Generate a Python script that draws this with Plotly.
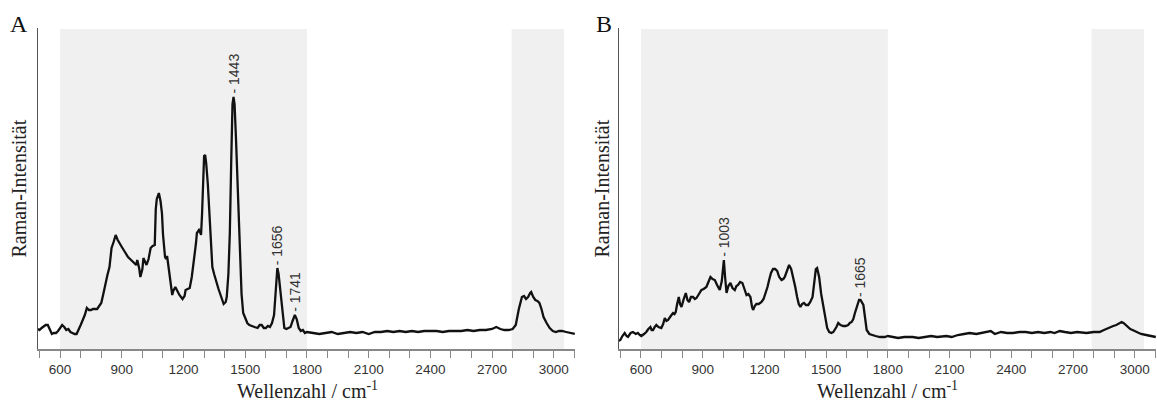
import plotly.graph_objects as go

# ---------------- data ----------------
a_x = [492,500,510,520,530,540,550,560,570,580,590,600,610,620,630,640,650,660,670,680,690,700,710,720,730,740,750,760,780,800,
       810,820,830,840,850,860,870,880,890,900,915,930,945,960,970,975,985,990,1000,1005,1015,1020,1030,1040,1050,1060,1065,1070,
       1080,1088,1095,1100,1110,1115,1120,1128,1135,1145,1150,1160,1170,1180,1195,1205,1210,1220,1230,1240,1250,1260,1265,1275,
       1280,1285,1290,1295,1300,1305,1310,1318,1325,1335,1340,1350,1360,1370,1380,1395,1405,1410,1418,1425,1432,1438,1443,1448,
       1455,1460,1468,1475,1482,1490,1500,1510,1520,1530,1545,1560,1570,1580,1590,1600,1610,1620,1630,1640,1648,1656,1662,1670,
       1678,1690,1700,1710,1720,1730,1741,1750,1760,1770,1780,1790,1800,1830,1860,1890,1920,1950,1980,2010,2040,2070,2100,2130,
       2160,2190,2220,2250,2280,2310,2340,2370,2400,2430,2460,2490,2520,2550,2580,2610,2640,2670,2700,2720,2740,2760,2780,2800,
       2815,2830,2845,2855,2865,2875,2885,2890,2900,2910,2920,2930,2940,2950,2965,2980,2995,3010,3025,3040,3060,3080,3102]
a_y = [20,19,21,23,24,24,19,15,16,16,18,21,24,22,19,20,17,16,15,15,19,24,29,34,41,39,39,40,40,46,
       55,66,74,82,101,107,114,109,105,102,97,92,89,86,84,89,80,72,80,91,87,84,90,101,103,104,140,150,
       156,148,136,115,92,90,93,80,72,54,58,62,58,54,50,53,59,60,61,72,86,105,116,119,
       117,114,135,170,193,194,186,165,142,100,82,74,66,60,54,45,47,52,75,116,190,245,252,245,
       210,182,130,82,55,36,30,26,24,23,22,21,24,24,21,21,23,22,26,34,55,81,75,59,
       38,21,20,21,22,28,34,30,21,18,19,16,17,16,15,16,17,15,16,17,16,17,15,17,
       17,18,17,18,17,18,17,18,18,18,17,18,18,18,19,18,19,19,20,22,20,19,19,20,
       24,40,52,53,50,52,56,57,52,49,48,46,40,32,26,21,18,17,18,18,17,16,15]

b_x = [490,500,510,521,530,537,550,561,575,585,595,602,615,626,636,646,652,659,667,675,685,699,708,716,724,732,745,756,763,769,
       776,784,790,797,808,818,826,834,843,853,862,870,882,894,905,918,928,938,948,959,970,983,993,1003,1009,1016,1025,1035,1045,
       1056,1064,1072,1082,1093,1103,1113,1122,1132,1140,1145,1153,1161,1172,1186,1196,1207,1215,1223,1232,1242,1252,1262,1272,
       1283,1292,1299,1310,1320,1330,1340,1350,1359,1367,1375,1383,1392,1402,1413,1423,1434,1443,1450,1456,1466,1476,1486,1495,
       1505,1515,1526,1535,1542,1550,1559,1570,1583,1595,1607,1615,1624,1632,1640,1650,1660,1667,1674,1681,1690,1697,1710,1721,
       1740,1762,1785,1800,1826,1850,1880,1920,1950,1980,2010,2040,2084,2110,2140,2170,2197,2230,2260,2278,2300,2320,2350,2380,
       2407,2440,2470,2500,2530,2560,2590,2610,2635,2660,2690,2720,2765,2800,2829,2850,2878,2895,2910,2925,2936,2945,2955,2965,
       2978,2989,3000,3014,3030,3055,3080,3102]
b_y = [8,9,13,16,13,12,16,17,15,16,14,13,15,17,20,22,19,19,22,24,22,21,25,31,28,29,33,36,35,37,
       45,52,45,42,50,56,49,47,52,52,50,51,55,59,60,62,67,72,70,69,64,59,68,89,72,56,63,66,61,
       59,63,64,67,66,60,54,55,52,42,39,43,45,45,47,50,56,62,69,76,80,80,78,72,
       69,70,72,79,84,80,72,62,52,45,42,45,46,44,44,47,52,68,80,81,72,55,42,30,
       21,17,16,17,19,22,26,24,23,23,24,26,27,30,36,44,49,49,47,44,30,19,15,14,
       13,12,12,13,12,11,12,12,11,12,13,12,13,12,14,15,16,15,16,17,18,15,17,16,
       16,17,17,16,17,16,17,16,18,17,16,17,16,17,17,19,22,23,24,26,27,26,24,22,
       20,19,18,16,15,14,13,12]

a_peaks = [1443, 1656, 1741]
a_peak_y = [252, 81, 34]
b_peaks = [1003, 1665]
b_peak_y = [89, 49]

bands_a = [(600, 1800), (2795, 3050)]
bands_b = [(600, 1800), (2790, 3045)]

tick_vals = [600, 900, 1200, 1500, 1800, 2100, 2400, 2700, 3000]
tick_labels = [str(v) for v in tick_vals]

panel_letters = ["A", "B"]
x_title = "Wellenzahl / cm<sup>-1</sup>"
y_title = "Raman-Intensität"

# ---------------- figure ----------------
SERIF = "Liberation Serif"
SANS = "Liberation Sans"
fig = go.Figure()
fig.add_trace(go.Scatter(x=a_x, y=a_y, mode="lines", line=dict(color="#111", width=2.3),
                         xaxis="x", yaxis="y", showlegend=False, hoverinfo="skip"))
fig.add_trace(go.Scatter(x=b_x, y=b_y, mode="lines", line=dict(color="#111", width=2.3),
                         xaxis="x2", yaxis="y2", showlegend=False, hoverinfo="skip"))

shapes = []
for xr, yr, bands in (("x", "y domain", bands_a), ("x2", "y2 domain", bands_b)):
    for x0, x1 in bands:
        shapes.append(dict(type="rect", xref=xr, yref=yr, x0=x0, x1=x1, y0=0, y1=0.997,
                           fillcolor="#f0f0f0", line=dict(width=0), layer="below"))

annotations = []
for xr, yr, px, py in (("x", "y", a_peaks, a_peak_y), ("x2", "y2", b_peaks, b_peak_y)):
    for p, v in zip(px, py):
        annotations.append(dict(x=p, y=v, xref=xr, yref=yr, text="- " + str(p), textangle=-90,
                                showarrow=False, yanchor="bottom", xanchor="center", yshift=1,
                                font=dict(family=SANS, size=14, color="#333")))

for xp, letter in ((18.5, panel_letters[0]), (604, panel_letters[1])):
    annotations.append(dict(x=xp / 1157, y=(349 - 24) / 321, xref="paper", yref="paper", text=letter,
                            showarrow=False, xanchor="center", yanchor="middle",
                            font=dict(family=SERIF, size=24, color="#111")))
for xp in (307, 887):
    annotations.append(dict(x=xp / 1157, y=-41 / 321, xref="paper", yref="paper", text=x_title,
                            showarrow=False, xanchor="center", yanchor="middle",
                            font=dict(family=SERIF, size=20, color="#222")))
for xp in (18, 601):
    annotations.append(dict(x=xp / 1157, y=0.5, xref="paper", yref="paper", text=y_title, textangle=-90,
                            showarrow=False, xanchor="center", yanchor="middle",
                            font=dict(family=SERIF, size=20, color="#222")))

xaxis_common = dict(range=[491, 3103], tickmode="array", tickvals=tick_vals, ticktext=tick_labels,
                    ticks="outside", ticklen=7, tickwidth=1, tickcolor="#888",
                    minor=dict(ticks="outside", tickmode="linear", tick0=0, dtick=100, ticklen=7,
                               tickwidth=1, tickcolor="#888", showgrid=False),
                    showline=True, linecolor="#888", linewidth=1.5, showgrid=False, zeroline=False,
                    tickfont=dict(family=SANS, size=13.5, color="#333"))
yaxis_common = dict(range=[0, 321], showline=True, linecolor="#555", linewidth=1.2, showticklabels=False,
                    ticks="", showgrid=False, zeroline=False)

fig.update_layout(
    width=1157, height=403,
    margin=dict(l=0, r=0, t=28, b=54),
    paper_bgcolor="white", plot_bgcolor="white",
    xaxis=dict(domain=[37.7 / 1157, 575 / 1157], anchor="y", **xaxis_common),
    yaxis=dict(domain=[0, 1], anchor="x", **yaxis_common),
    xaxis2=dict(domain=[618.5 / 1157, 1156 / 1157], anchor="y2", **xaxis_common),
    yaxis2=dict(domain=[0, 1], anchor="x2", **yaxis_common),
    shapes=shapes, annotations=annotations,
)
fig.write_html("out.html", config={"displayModeBar": False},
               post_script="document.body.style.margin='0px';document.body.style.overflow='hidden';")
